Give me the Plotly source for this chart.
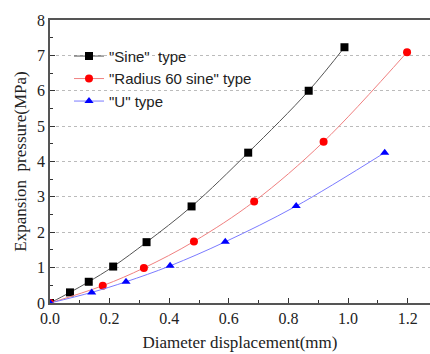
import plotly.graph_objects as go

sine_x = [0, 0.067, 0.13, 0.212, 0.324, 0.475, 0.665, 0.868, 0.988]
sine_y = [0, 0.3, 0.6, 1.03, 1.72, 2.73, 4.25, 6.0, 7.23]
rad_x = [0, 0.177, 0.315, 0.483, 0.685, 0.918, 1.198]
rad_y = [0, 0.49, 0.99, 1.74, 2.87, 4.56, 7.09]
u_x = [0, 0.14, 0.255, 0.403, 0.588, 0.826, 1.123]
u_y = [0, 0.3, 0.6, 1.05, 1.73, 2.74, 4.25]

names = ['"Sine"  type', '"Radius 60 sine" type', '"U" type']
line_colors = ["#555555", "#f08080", "#7b7bff"]
marker_colors = ["#000000", "#ff0000", "#0000ff"]
symbols = ["square", "circle", "triangle-up"]

fig = go.Figure()
for xs, ys, nm, lc, mc, sy in zip([sine_x, rad_x, u_x], [sine_y, rad_y, u_y],
                                  names, line_colors, marker_colors, symbols):
    fig.add_trace(go.Scatter(
        x=xs, y=ys, name=nm, mode="lines+markers",
        line=dict(color=lc, width=1, shape="spline"),
        marker=dict(color=mc, symbol=sy, size=8),
    ))

serif = "Liberation Serif"
fig.update_layout(
    width=430, height=354,
    margin=dict(l=50, r=0, t=20, b=51),
    plot_bgcolor="white", paper_bgcolor="white",
    showlegend=True,
    legend=dict(x=0.05, y=0.93, xanchor="left", yanchor="top",
                bgcolor="rgba(0,0,0,0)", font=dict(family="Liberation Sans", size=15, color="#222"),
                itemwidth=30, tracegroupgap=0),
    xaxis=dict(range=[0, 1.275], tickvals=[0, 0.2, 0.4, 0.6, 0.8, 1.0, 1.2],
               ticktext=["0.0", "0.2", "0.4", "0.6", "0.8", "1.0", "1.2"],
               ticks="inside", ticklen=5, tickcolor="#333",
               minor=dict(dtick=0.1, ticks="inside", ticklen=3, tickcolor="#333"),
               showline=True, linecolor="#555", linewidth=1.5, mirror=True,
               showgrid=False, zeroline=False,
               tickfont=dict(family=serif, size=16, color="#222"),
               title=dict(text="Diameter displacement(mm)", font=dict(family=serif, size=17, color="#222"), standoff=10)),
    yaxis=dict(range=[0, 8], dtick=1,
               ticks="inside", ticklen=5, tickcolor="#333",
               minor=dict(dtick=0.5, ticks="inside", ticklen=3, tickcolor="#333"),
               showline=True, linecolor="#555", linewidth=1.5, mirror=False,
               showgrid=True, gridcolor="#bbbbbb", griddash="dot", gridwidth=1,
               zeroline=False,
               tickfont=dict(family=serif, size=16, color="#222"),
               title=dict(text="Expansion  pressure(MPa)", font=dict(family=serif, size=17, color="#222"), standoff=6)),
)
fig.write_html("out.html")
